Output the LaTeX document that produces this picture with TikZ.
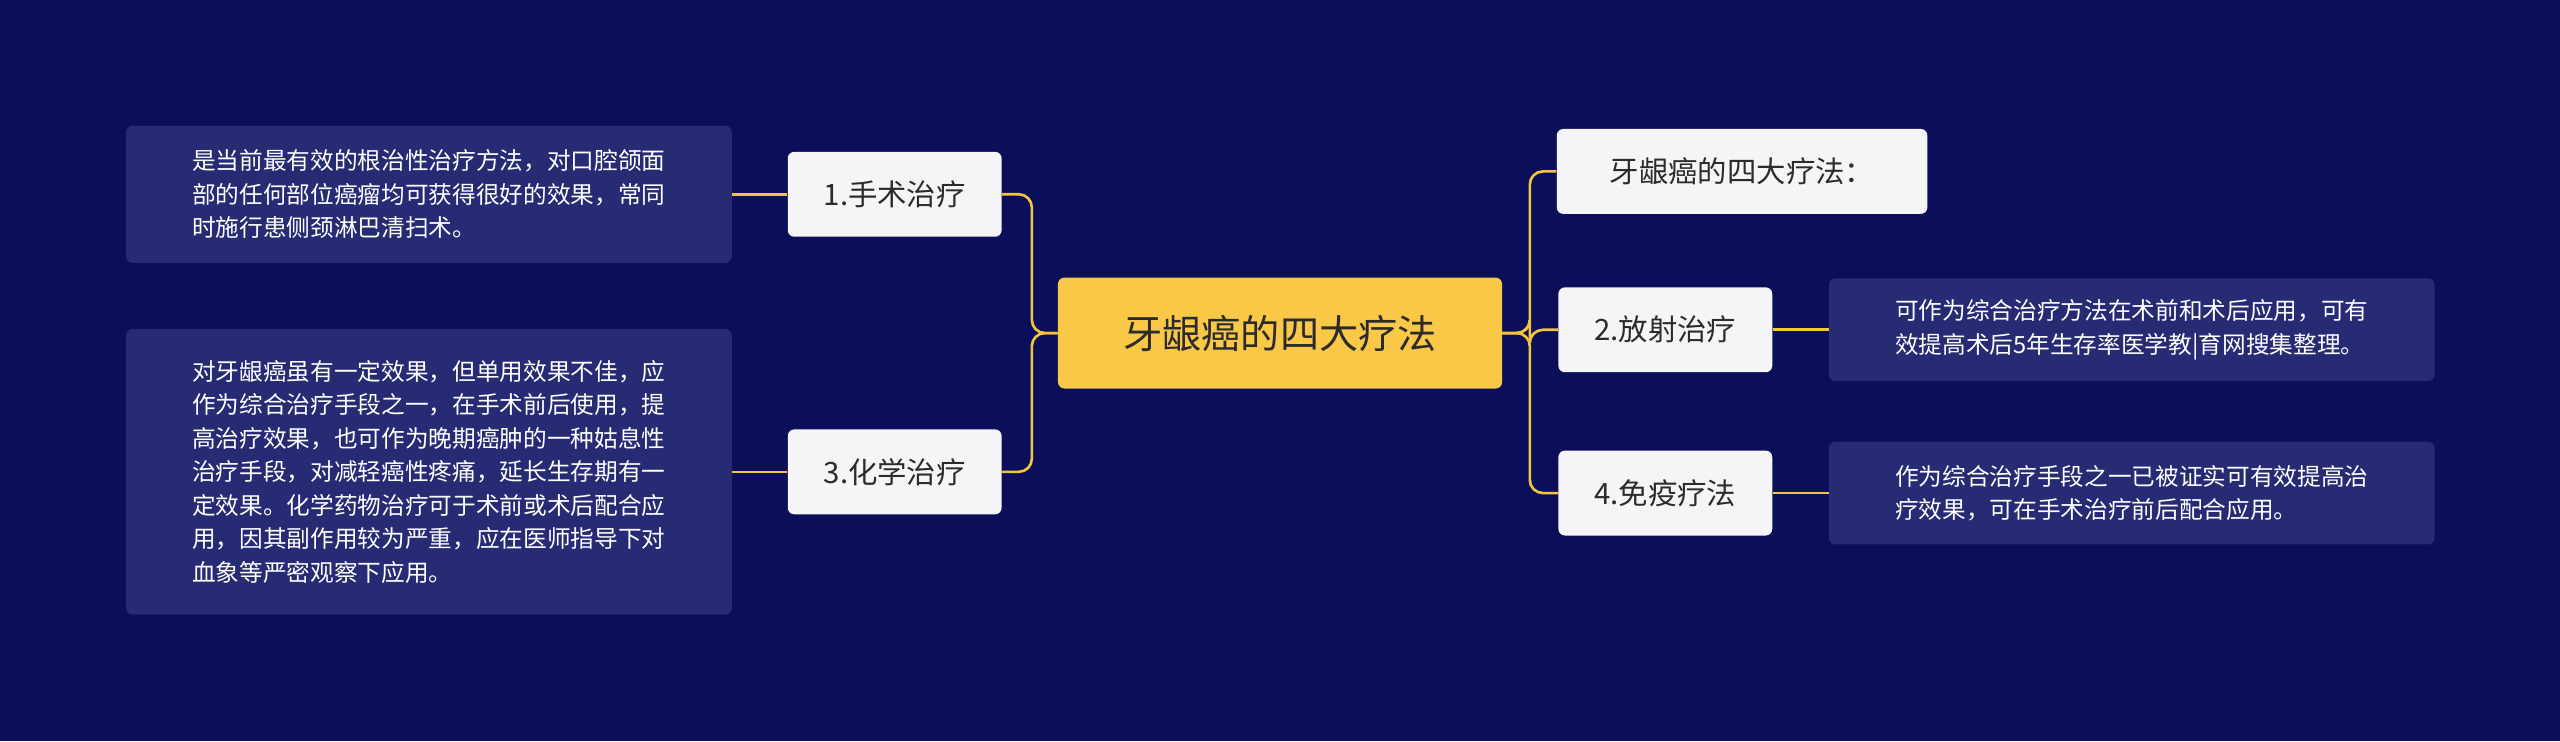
\documentclass[tikz,border=0pt]{standalone}
\usepackage{fontspec}
\setmainfont{Noto Sans CJK SC}
\definecolor{bg}{HTML}{0B0F5A}
\definecolor{ctr}{HTML}{F9C847}
\definecolor{br}{HTML}{F5F5F7}
\definecolor{leaf}{HTML}{272B74}
\definecolor{ln}{HTML}{F2C53D}
\definecolor{txt}{HTML}{2B2B2B}
\begin{document}
\begin{tikzpicture}[x=1pt,y=-1pt,
  center/.style={fill=ctr,rounded corners=4pt,minimum width=272pt,minimum height=68pt,text=txt,font=\fontsize{24}{28}\selectfont},
  branch/.style={fill=br,rounded corners=4pt,minimum height=52pt,text=txt,font=\fontsize{18}{22}\selectfont,inner xsep=10pt},
  leafbox/.style={fill=leaf,rounded corners=4pt,text=white,font=\fontsize{14.5}{20.5}\selectfont,align=left,inner xsep=10pt,inner ysep=8pt,anchor=west},
  con/.style={draw=ln,line width=1.6pt,rounded corners=8pt}]
\fill[bg] (0,0) rectangle (1568,454);
\useasboundingbox (0,0) rectangle (1568,454);
\node[center] (c) at (784,204) {牙龈癌的四大疗法};
\node[branch,minimum width=131pt] (b1) at (548,119) {1.手术治疗};
\node[branch,minimum width=131pt] (b3) at (548,289) {3.化学治疗};
\node[branch,minimum width=227pt] (r0) at (1067,105) {牙龈癌的四大疗法：};
\node[branch,minimum width=131pt] (r2) at (1020,202) {2.放射治疗};
\node[branch,minimum width=131pt] (r4) at (1020,302) {4.免疫疗法};
\node[leafbox,minimum width=371pt,minimum height=84pt] (l1) at (77,119) {是当前最有效的根治性治疗方法，对口腔颌面\\部的任何部位癌瘤均可获得很好的效果，常同\\时施行患侧颈淋巴清扫术。};
\node[leafbox,minimum width=371pt,minimum height=175pt] (l3) at (77,289) {对牙龈癌虽有一定效果，但单用效果不佳，应\\作为综合治疗手段之一，在手术前后使用，提\\高治疗效果，也可作为晚期癌肿的一种姑息性\\治疗手段，对减轻癌性疼痛，延长生存期有一\\定效果。化学药物治疗可于术前或术后配合应\\用，因其副作用较为严重，应在医师指导下对\\血象等严密观察下应用。};
\node[leafbox,minimum width=371pt,minimum height=63pt] (l2) at (1120,202) {可作为综合治疗方法在术前和术后应用，可有\\效提高术后5年生存率医学教|育网搜集整理。};
\node[leafbox,minimum width=371pt,minimum height=63pt] (l4) at (1120,302) {作为综合治疗手段之一已被证实可有效提高治\\疗效果，可在手术治疗前后配合应用。};
\coordinate (cl) at (632,204);
\coordinate (cr) at (937,204);
\draw[con] (c.west) -- (cl) |- (b1.east);
\draw[con] (c.west) -- (cl) |- (b3.east);
\draw[con] (c.east) -- (cr) |- (r0.west);
\draw[con] (c.east) -- (cr) |- (r2.west);
\draw[con] (c.east) -- (cr) |- (r4.west);
\draw[con] (l1.east) -- (b1.west);
\draw[con] (l3.east) -- (b3.west);
\draw[con] (r2.east) -- (l2.west);
\draw[con] (r4.east) -- (l4.west);
\end{tikzpicture}
\end{document}
